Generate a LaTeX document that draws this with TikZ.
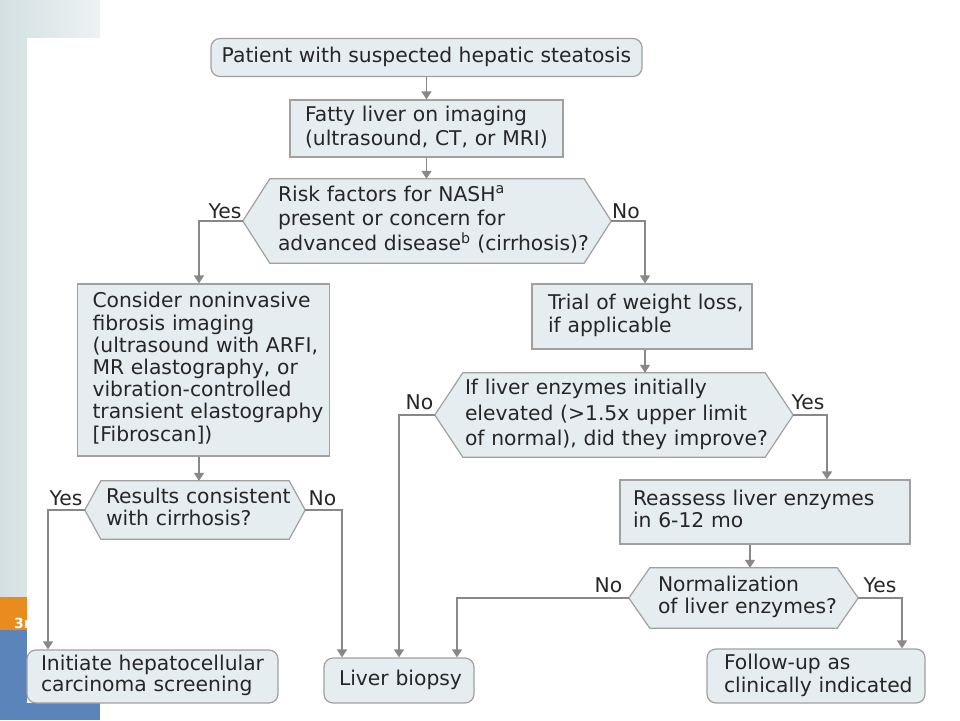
\documentclass[tikz,border=0pt]{standalone}
\usepackage{fontspec}
\setmainfont{DejaVu Sans}
\usetikzlibrary{arrows.meta,backgrounds,calc}
\definecolor{boxfill}{HTML}{E6EDF1}
\definecolor{boxline}{HTML}{A0A0A0}
\definecolor{arrcol}{HTML}{888888}
\definecolor{txt}{HTML}{262626}
\definecolor{photoA}{HTML}{D3E0E2}
\definecolor{photoB}{HTML}{EDF2F3}
\definecolor{barorange}{HTML}{E88C1F}
\definecolor{barblue}{HTML}{5B84BA}
\newcommand{\ml}[2][0pt]{\begin{tabular}{@{}l@{}}\rule{0pt}{\dimexpr0.7\baselineskip+#1+1pt\relax}#2\end{tabular}}
\newcommand{\fnt}[1]{\fontsize{20.3}{#1}\selectfont}
\begin{document}
\begin{tikzpicture}[x=1pt,y=-1pt,
  every node/.style={text=txt},
  box/.style={draw=boxline, fill=boxfill, line width=1.2pt, align=left, inner ysep=0pt, font=\fnt{23}},
  rbox/.style={box, rounded corners=9pt},
  hex/.style={align=left, inner ysep=0pt, font=\fnt{24}},
  hexline/.style={draw=boxline, fill=boxfill, line width=1.2pt},
  lab/.style={inner sep=0pt, font=\fnt{23}},
  arr/.style={draw=arrcol, line width=1.4pt, -{Triangle[width=10pt,length=8pt]}},
]
\useasboundingbox (0,0) rectangle (960,720);
% background slide elements
\begin{scope}[on background layer]
  \fill[white] (0,0) rectangle (960,720);
  \shade[left color=photoA, right color=photoB] (0,0) rectangle (100,703);
  \fill[barorange] (0,597) rectangle (27,630);
  \fill[barblue] (0,630) rectangle (27,720);
  \fill[barblue] (0,703) rectangle (100,720);
  \node[text=white, font=\bfseries\fontsize{14}{16}\selectfont, anchor=base west, inner sep=0pt] (slidenum) at (14,628) {3r};
  \fill[white] (27,38) rectangle (960,703);
\end{scope}

% boxes
\node[rbox, minimum width=431pt, minimum height=38pt] (p1) at (426.5,57.5) {\ml[5.8pt]{Patient with suspected hepatic steatosis}};
\node[box, text width=243pt, inner xsep=15pt, minimum height=57pt, font=\fnt{24.5}] (p2) at (426.5,128.5) {\ml[6.4pt]{Fatty liver on imaging\\(ultrasound, CT, or MRI)}};
\node[hex, text width=298pt, inner xsep=35pt, minimum height=84pt] (h1) at (427,221) {\ml[9.8pt]{Risk factors for NASH\textsuperscript{a}\\present or concern for\\advanced disease\textsuperscript{b} (cirrhosis)?}};
\node[box, text width=222pt, inner xsep=15pt, minimum height=172pt, font=\fnt{22.2}] (c1) at (203.5,370) {\ml[3pt]{Consider noninvasive\\fibrosis imaging\\(ultrasound with ARFI,\\MR elastography, or\\vibration-controlled\\transient elastography\\{[}Fibroscan{]})}};
\node[box, text width=188pt, inner xsep=16pt, minimum height=65pt, font=\fnt{22.7}] (t1) at (642,316.5) {\ml[2.2pt]{Trial of weight loss,\\if applicable}};
\node[hex, text width=298pt, inner xsep=30pt, minimum height=84pt, font=\fnt{25.3}] (h2) at (614,415) {\ml[7.4pt]{If liver enzymes initially\\elevated (>1.5x upper limit\\of normal), did they improve?}};
\node[box, text width=264pt, inner xsep=13pt, minimum height=64pt, font=\fnt{22.7}] (r1) at (765,512) {\ml[4.4pt]{Reassess liver enzymes\\in 6-12 mo}};
\node[hex, text width=171pt, inner xsep=29pt, minimum height=60pt, font=\fnt{22.7}] (h3) at (743.5,598) {\ml[4.6pt]{Normalization\\of liver enzymes?}};
\node[rbox, text width=184pt, inner xsep=17pt, minimum height=54pt, font=\fnt{23.3}] (f1) at (816,676) {\ml[7.2pt]{Follow-up as\\clinically indicated}};
\node[rbox, text width=120pt, inner xsep=15pt, minimum height=45pt] (b1) at (399,680.5) {\ml[3.2pt]{Liver biopsy}};
\node[hex, text width=178pt, inner xsep=21pt, minimum height=58pt, font=\fnt{21.7}] (h4) at (195,510) {\ml[5pt]{Results consistent\\with cirrhosis?}};
\node[rbox, text width=223pt, inner xsep=14pt, minimum height=53pt, font=\fnt{20.7}] (i1) at (152.5,676.5) {\ml[4.8pt]{Initiate hepatocellular\\carcinoma screening}};

% hexagon outlines
\begin{scope}[on background layer]
\foreach \n/\e in {h1/27,h2/28,h3/21,h4/16}
  \draw[hexline] ([xshift=\e pt]\n.north west) -- ([xshift=-\e pt]\n.north east) -- (\n.east)
     -- ([xshift=-\e pt]\n.south east) -- ([xshift=\e pt]\n.south west) -- (\n.west) -- cycle;
\end{scope}

% labels
\node[lab] (y1) at (225,211.5) {Yes};
\node[lab] (n1) at (626,211.5) {No};
\node[lab] (n2) at (419.5,402.5) {No};
\node[lab] (y2) at (808,402) {Yes};
\node[lab] (y4) at (66,498.5) {Yes};
\node[lab] (n4) at (322.5,498) {No};
\node[lab] (n3) at (608.5,585) {No};
\node[lab] (y3) at (880,585) {Yes};

% connectors
\draw[arr] (p1.south) -- (p2.north);
\draw[arr] (p2.south) -- (p2.south |- h1.north);
\draw[arr] (h1.west) -| ([xshift=-4.5pt]c1.north);
\draw[arr] (h1.east) -| ([xshift=3pt]t1.north);
\draw[arr] ([xshift=-4.5pt]c1.south) -- ([xshift=-4.5pt]c1.south |- h4.north);
\draw[arr] ([xshift=3pt]t1.south) -- ([xshift=3pt]t1.south |- h2.north);
\draw[arr] (h2.west) -| (b1.north);
\draw[arr] (h2.east) -| ([xshift=62pt]r1.north);
\draw[arr] ([xshift=-15pt]r1.south) -- ([xshift=-15pt]r1.south |- h3.north);
\draw[arr] (h3.west) -| ([xshift=58pt]b1.north);
\draw[arr] (h3.east) -| ([xshift=86pt]f1.north);
\draw[arr] (h4.west) -| ([xshift=-104.5pt]i1.north);
\draw[arr] (h4.east) -| ([xshift=-57pt]b1.north);
\end{tikzpicture}
\end{document}
